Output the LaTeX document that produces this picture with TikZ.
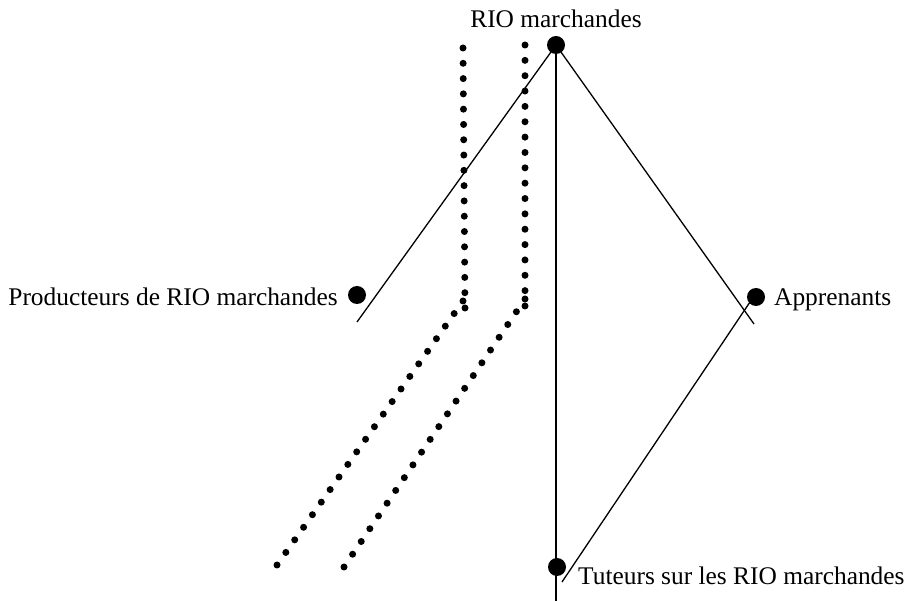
\documentclass[tikz,border=0pt]{standalone}
\usepackage{fontspec}
\setmainfont{Liberation Serif}
\usetikzlibrary{calc}
\tikzset{
  bigdot/.style={circle,fill=black,inner sep=0pt,minimum size=18pt},
  thinline/.style={draw=black,line width=1.3pt},
  lbl/.style={inner sep=0pt,font=\fontsize{25.4}{30}\selectfont},
}
\begin{document}
\begin{tikzpicture}[x=1pt,y=-1pt]
\useasboundingbox (0,0) rectangle (906,601);
% dots
\node[bigdot] (rio) at (556,45) {};
\node[bigdot] (prod) at (357,295) {};
\node[bigdot] (appr) at (756,297) {};
\node[bigdot] (tut) at (557,567) {};
% labels
\node[lbl,anchor=base] (riol) at (556,28) {RIO marchandes};
\node[lbl,anchor=base east] (prodl) at (338,306) {Producteurs de RIO marchandes};
\node[lbl,anchor=base west] (apprl) at (774,306) {Apprenants};
\node[lbl,anchor=base west] (tutl) at (578,585) {Tuteurs sur les RIO marchandes};
% line ends
\coordinate (lend) at (357,322);
\coordinate (rend) at (754,324);
\coordinate (vend) at (556,601);
\coordinate (astart) at (750,302);
\coordinate (aend) at (562,582);
\draw[thinline] (rio.center) -- (lend);
\draw[thinline] (rio.center) -- (rend);
\draw[thinline] (rio.center) -- (vend);
\draw[thinline] (astart) -- (aend);
% dotted paths
\coordinate (a1) at (463,48);
\coordinate (a2) at (465,308);
\coordinate (a3) at (463,301);
\coordinate (a4) at (277,565);
\coordinate (b1) at (525,45);
\coordinate (b2) at (525,306);
\coordinate (b3) at (525,299);
\coordinate (b4) at (344,567);
\foreach \i in {0,...,17} {
  \fill ($(a1)!\i/17!(a2)$) circle (3.5);
  \fill ($(b1)!\i/17!(b2)$) circle (3.5);
}
\foreach \i in {0,...,21} {
  \fill ($(a3)!\i/21!(a4)$) circle (3.5);
  \fill ($(b3)!\i/21!(b4)$) circle (3.5);
}
\end{tikzpicture}
\end{document}
